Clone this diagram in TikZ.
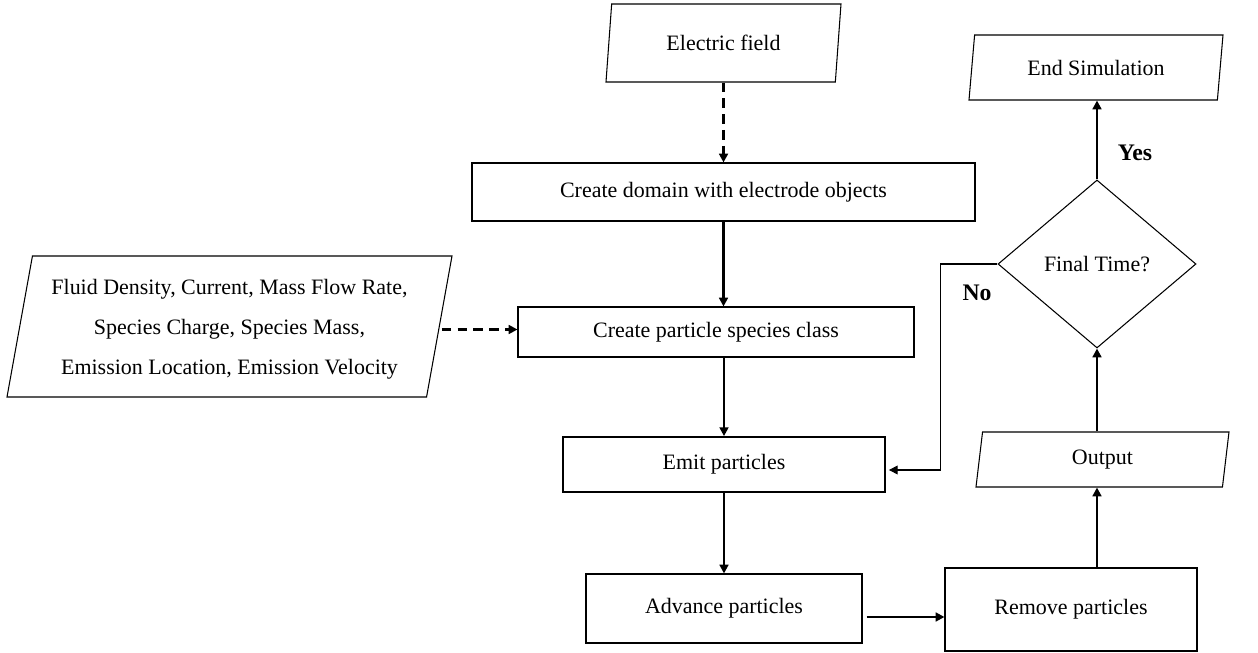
\documentclass[tikz,border=0pt]{standalone}
\usepackage{fontspec}
\setmainfont{Liberation Serif}
\usetikzlibrary{arrows.meta,shapes.geometric}
\begin{document}
\begin{tikzpicture}[
    box/.style={draw, line width=0.6pt, inner sep=2pt,
      font=\fontsize{12.5}{15}\selectfont},
    data/.style={box, trapezium, trapezium left angle=76,
      trapezium right angle=104, trapezium stretches body},
    decide/.style={box, diamond, aspect=1.18},
    flow/.style={-{Triangle[length=5pt,width=5pt]}, line width=1.6pt},
    feed/.style={-{Triangle[length=5pt,width=5pt]}, line width=1.4pt,
      dash pattern={on 5.5pt off 3.5pt}},
    back/.style={-{Triangle[length=5pt,width=5pt]}, line width=0.6pt},
    lbl/.style={font=\fontsize{13.5}{16}\selectfont\bfseries}]
  \useasboundingbox (0,0) rectangle (25.16,-13.06);
  % main column
  \node[data, minimum width=4.7cm, minimum height=1.56cm] (efield) at (14.47,-0.86) {Electric field};
  \node[box, minimum width=10.06cm, minimum height=1.16cm] (domain) at (14.47,-3.84) {Create domain with electrode objects};
  \node[box, minimum width=7.92cm, minimum height=1cm] (species) at (14.32,-6.64) {Create particle species class};
  \node[data, minimum width=8.9cm, minimum height=2.82cm, align=center,
    font=\fontsize{12.5}{22.7}\selectfont, text depth=-0.27cm] (inputs) at (4.59,-6.53)
    {Fluid Density, Current, Mass Flow Rate,\\ Species Charge, Species Mass,\\ Emission Location, Emission Velocity};
  \node[box, line width=1pt, minimum width=6.44cm, minimum height=1.1cm] (emit) at (14.48,-9.29) {Emit particles};
  \node[box, minimum width=5.52cm, minimum height=1.38cm] (advance) at (14.48,-12.17) {Advance particles};
  % loop column
  \node[box, minimum width=5.04cm, minimum height=1.66cm] (remove) at (21.42,-12.19) {Remove particles};
  \node[data, minimum width=5.06cm, minimum height=1.1cm] (output) at (22.05,-9.19) {Output};
  \node[decide, minimum width=3.96cm, minimum height=3.36cm] (final) at (21.94,-5.28) {Final Time?};
  \node[data, minimum width=5.08cm, minimum height=1.3cm] (endsim) at (21.92,-1.35) {End Simulation};
  \node[lbl] (yes) at (22.7,-3.06) {Yes};
  \node[lbl] (no) at (19.54,-5.86) {No};
  % connectors
  \draw[feed] (efield.south) -- (efield.south |- domain.north);
  \draw[flow] (domain.south) -- (domain.south |- species.north);
  \draw[feed] ([xshift=0.04cm,yshift=-0.06cm]inputs.east) -- ([yshift=-0.06cm]inputs.east -| species.west);
  \draw[flow] (species.south -| emit.north) -- (emit.north);
  \draw[flow] (emit.south) -- (advance.north);
  \draw[flow] ([xshift=0.08cm,yshift=-0.17cm]advance.east) -- ([yshift=-0.17cm]advance.east -| remove.west);
  \draw[flow] (final.south |- remove.north) -- (final.south |- output.south);
  \draw[flow] (final.south |- output.north) -- (final.south);
  \draw[flow] (final.north) -- (final.north |- endsim.south);
  \draw[back] (final.west) -- ++(-1.14,0) |- ([xshift=0.06cm,yshift=-0.11cm]emit.east);
\end{tikzpicture}
\end{document}
